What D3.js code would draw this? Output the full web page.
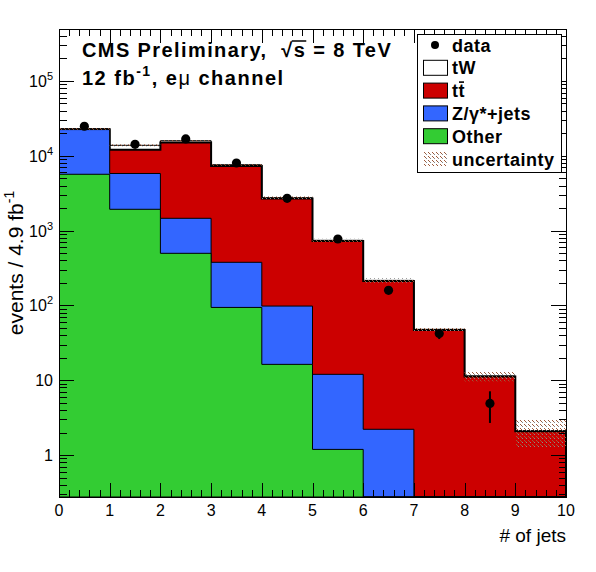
<!DOCTYPE html>
<html><head><meta charset="utf-8">
<script src="https://cdn.jsdelivr.net/npm/d3@7"></script>
<style>
body{margin:0;background:#fff}
svg text{font-family:'Liberation Sans',Arial,Helvetica,sans-serif;white-space:pre}
</style>
</head><body><svg id="c" width="596" height="572"></svg>
<script>
// ---- data ----
const bins = [0,1,2,3,4,5,6,7,8,9];           // lower bin edges, width 1
const other = [5660,1927,497,94,16.3,1.19,0,0,0,0];
const zjets = [16740,3873,963,283,81.7,10.8,2.21,0,0,0];
const ttbar = [300,6270,13540,6923,2582,713,210,47,11.2,2.08];
const tw    = [300,1730,900,300,70,17,4,0.9,0.2,0.03];
const uncert= [700,420,480,230,110,37,15,3.4,1.75,0.83];
const data  = [24800,14250,16780,8010,2700,772,159,42,4.9,0];
const xTickVals = [0,1,2,3,4,5,6,7,8,9,10];
const yTickVals = [1,10,100,1000,10000,100000];
const yTickBase = ["1","10","10","10","10","10"];
const yTickExp  = ["","","2","3","4","5"];

const W=596,H=572, L=59,R=566,T=29,B=497;
const svg=d3.select("#c");
const x=d3.scaleLinear().domain([0,10]).range([L,R]);
const y=d3.scaleLog().domain([0.275,4.95e5]).range([B,T]).clamp(true);
const yv=v=>y(Math.max(v,0.01));

const defs=svg.append("defs");
defs.append("clipPath").attr("id","clip").append("rect").attr("x",L).attr("y",T).attr("width",R-L).attr("height",B-T);
const pat=defs.append("pattern").attr("id","hatch").attr("patternUnits","userSpaceOnUse").attr("width",4).attr("height",4);
[[0,0,"#9c5a3c"],[1,1,"#9c5a3c"],[2,2,"#8a8a8a"]].forEach(p=>pat.append("rect").attr("x",p[0]).attr("y",p[1]).attr("width",1).attr("height",1).attr("fill",p[2]));

// cumulative stacks
const cOther=other.slice();
const cZ=cOther.map((v,i)=>v+zjets[i]);
const cTT=cZ.map((v,i)=>v+ttbar[i]);
const cTot=cTT.map((v,i)=>v+tw[i]);

function stepPts(c){
  const pts=[[x(0),B]];
  bins.forEach((b,i)=>{pts.push([x(b),yv(c[i])]);pts.push([x(b+1),yv(c[i])]);});
  pts.push([x(10),B]);
  return pts;
}
const line=d3.line();
const g=svg.append("g").attr("clip-path","url(#clip)");
[[cTot,"#ffffff",1],[cTT,"#cc0000",2],[cZ,"#3366ff",1],[cOther,"#33cc33",1]].forEach(([c,col,lw])=>{
  g.append("path").attr("d",line(stepPts(c))+"Z").attr("fill",col).attr("stroke","#000").attr("stroke-width",lw);
});
// uncertainty band
g.selectAll("rect.unc").data(bins).enter().append("rect").attr("class","unc")
  .attr("x",b=>x(b)).attr("width",b=>x(b+1)-x(b))
  .attr("y",(b,i)=>yv(cTot[i]+uncert[i]))
  .attr("height",(b,i)=>yv(Math.max(cTot[i]-uncert[i],0.01))-yv(cTot[i]+uncert[i]))
  .attr("fill","url(#hatch)");
// data
bins.forEach((b,i)=>{
  const d=data[i]; if(d<=0) return;
  const e=Math.sqrt(d), cx=x(b+0.5);
  g.append("line").attr("x1",cx).attr("x2",cx).attr("y1",yv(d+e)).attr("y2",yv(Math.max(d-e,0.01))).attr("stroke","#000").attr("stroke-width",2);
  g.append("circle").attr("cx",cx).attr("cy",y(d)).attr("r",4.6).attr("fill","#000");
});

// frame + ticks
const ax=svg.append("g").attr("stroke","#000").attr("stroke-width",1).attr("shape-rendering","crispEdges");
ax.append("rect").attr("x",L).attr("y",T).attr("width",R-L).attr("height",B-T).attr("fill","none");
for(let k=0;k<=50;k++){
  const v=k/5, px=Math.round(x(v))+0.5, len=(k%5===0)?14:7;
  ax.append("line").attr("x1",px).attr("x2",px).attr("y1",B).attr("y2",B-len);
  ax.append("line").attr("x1",px).attr("x2",px).attr("y1",T).attr("y2",T+len);
}
const yd=y.domain();
for(let e=-1;e<=5;e++){
  for(let m=1;m<=9;m++){
    const v=m*Math.pow(10,e); if(v<yd[0]||v>yd[1]) continue;
    const py=Math.round(y(v))+0.5, len=(m===1)?15:7.5;
    ax.append("line").attr("x1",L).attr("x2",L+len).attr("y1",py).attr("y2",py);
    ax.append("line").attr("x1",R).attr("x2",R-len).attr("y1",py).attr("y2",py);
  }
}
// tick labels
svg.selectAll("text.xt").data(xTickVals).enter().append("text").attr("class","xt")
  .attr("x",d=>x(d)).attr("y",516).attr("text-anchor","middle").attr("font-size",16).text(d=>d);
yTickVals.forEach((v,i)=>{
  const t=svg.append("text").attr("x",53).attr("y",y(v)+6).attr("text-anchor","end").attr("font-size",16);
  t.append("tspan").text(yTickBase[i]);
  if(yTickExp[i]) t.append("tspan").attr("dy",-7).attr("font-size",11).text(yTickExp[i]);
});
// axis titles
svg.append("text").attr("x",566).attr("y",542).attr("text-anchor","end").attr("font-size",19).text("# of jets");
const yt=svg.append("text").attr("transform","translate(23,263) rotate(-90)").attr("text-anchor","middle").attr("font-size",21);
yt.append("tspan").text("events / 4.9 fb");
yt.append("tspan").attr("dy",-9).attr("font-size",14).text("-1");

// header text
const h1=svg.append("text").attr("x",82).attr("y",57).attr("font-size",20).attr("font-weight","bold").attr("letter-spacing",1.4);
h1.append("tspan").text("CMS Preliminary,  ");
h1.append("tspan").text("\u221A");
h1.append("tspan").text("s");
h1.append("tspan").text(" = 8 TeV");
{
  const node=h1.node(), idx="CMS Preliminary,  \u221A".length;
  const ex=node.getExtentOfChar(idx), rx=node.getExtentOfChar(idx-1);
  svg.append("line").attr("x1",rx.x+rx.width-2).attr("x2",ex.x+ex.width).attr("y1",rx.y+2).attr("y2",rx.y+2).attr("stroke","#000").attr("stroke-width",1.5);
}
const h2=svg.append("text").attr("x",82).attr("y",85).attr("font-size",20).attr("font-weight","bold").attr("letter-spacing",1.5);
h2.append("tspan").text("12 fb");
h2.append("tspan").attr("dy",-9).attr("font-size",14).text("-1");
h2.append("tspan").attr("dy",9).text(", e");
h2.append("tspan").attr("font-weight","normal").text("\u03BC");
h2.append("tspan").text(" channel");

// legend
const lg=svg.append("g");
lg.append("rect").attr("x",417.5).attr("y",34.5).attr("width",144).attr("height",138).attr("fill","#fff").attr("stroke","#000");
const entries=[["data","marker"],["tW","#ffffff"],["tt","#cc0000"],["Z/\u03B3*+jets","#3366ff"],["Other","#33cc33"],["uncertainty","hatch"]];
entries.forEach((en,i)=>{
  const cy=45+i*22.8;
  if(en[1]==="marker") lg.append("circle").attr("cx",435).attr("cy",cy).attr("r",4).attr("fill","#000");
  else if(en[1]==="hatch") lg.append("rect").attr("x",423).attr("y",cy-7).attr("width",24).attr("height",14).attr("fill","url(#hatch)");
  else lg.append("rect").attr("x",423.5).attr("y",cy-7.5).attr("width",24).attr("height",15).attr("fill",en[1]).attr("stroke","#000");
  const t=lg.append("text").attr("x",452).attr("y",cy+6.5).attr("font-size",18).attr("font-weight","bold").attr("letter-spacing",0.5).text(en[0]);
  if(en[0]==="tt"){
    const ex=t.node().getExtentOfChar(1);
    lg.append("line").attr("x1",ex.x+0.5).attr("x2",ex.x+ex.width-1).attr("y1",ex.y+1).attr("y2",ex.y+1).attr("stroke","#000").attr("stroke-width",1.6);
  }
});
</script></body></html>
